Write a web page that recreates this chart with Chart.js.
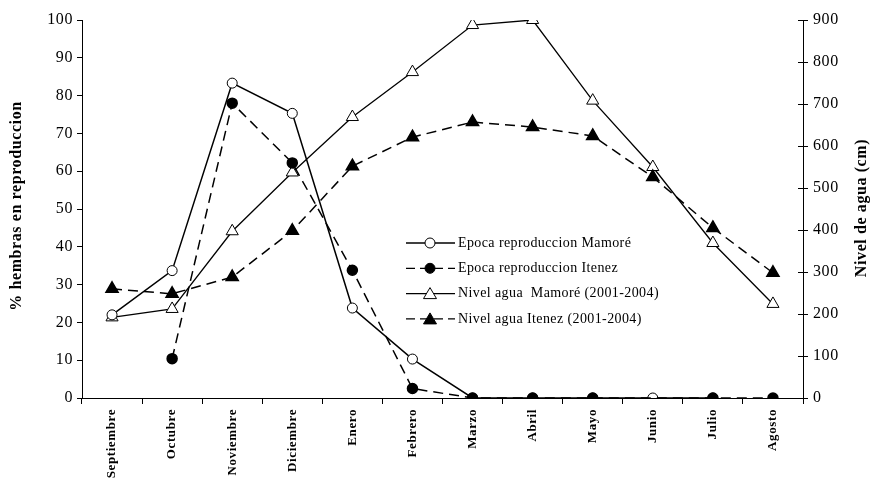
<!DOCTYPE html>
<html>
<head>
<meta charset="utf-8">
<script src="https://cdn.jsdelivr.net/npm/chart.js@4"></script>
<style>
  body { margin: 0; background: #fff; }
</style>
</head>
<body>
<canvas id="chart" width="878" height="484"></canvas>
<script>
const months = ['Septiembre', 'Octubre', 'Noviembre', 'Diciembre', 'Enero', 'Febrero',
                'Marzo', 'Abril', 'Mayo', 'Junio', 'Julio', 'Agosto'];
// % hembras en reproduccion (left axis)
const reproMamore = [22, 33.7, 83.3, 75.3, 23.8, 10.3, 0, 0, 0, 0, 0, null];
const reproItenez = [null, 10.4, 78, 62.2, 33.8, 2.5, 0, 0, 0, null, 0, 0];
// Nivel de agua en cm (right axis)
const nivelMamore = [192, 212, 397, 537, 669, 776, 888, 900, 708, 550, 369, 224];
const nivelItenez = [260, 248, 288, 398, 552, 621, 657, 645, 624, 526, 405, 298];

const seriesNames = ['Epoca reproduccion Mamoré', 'Epoca reproduccion Itenez',
                     'Nivel agua  Mamoré (2001-2004)', 'Nivel agua Itenez (2001-2004)'];
const leftTitle = '% hembras en reproduccion';
const rightTitle = 'Nivel de agua (cm)';

const serif = '"Liberation Serif", "DejaVu Serif", serif';

// the source figure has slightly spaced-out lettering
const spacing = {
    id: 'spacing',
    beforeDraw(chart) {
        chart.ctx.letterSpacing = '0.6px';
    }
};

// legend, rotated axis titles and inner ticks of right axis, drawn by hand
const extras = {
    id: 'extras',
    afterDraw(chart) {
        const ctx = chart.ctx;
        const y2 = chart.scales.y2;

        ctx.save();
        ctx.strokeStyle = '#000';
        ctx.lineWidth = 1;
        y2.ticks.forEach(t => {
            const py = Math.round(y2.getPixelForValue(t.value)) + 0.5;
            ctx.beginPath();
            ctx.moveTo(y2.left - 5, py);
            ctx.lineTo(y2.left, py);
            ctx.stroke();
        });
        ctx.restore();

        const drawTitle = (text, x, y) => {
            ctx.save();
            ctx.letterSpacing = '0.6px';
            ctx.fillStyle = '#000';
            ctx.font = 'bold 16px ' + serif;
            ctx.textAlign = 'center';
            ctx.textBaseline = 'middle';
            ctx.translate(x, y);
            ctx.rotate(-Math.PI / 2);
            ctx.fillText(text, 0, 0);
            ctx.restore();
        };
        drawTitle(leftTitle, 17, 206);
        drawTitle(rightTitle, 862, 208);

        // legend
        const styles = [
            { dash: [], shape: 'circle', fill: '#fff' },
            { dash: [9, 5], shape: 'circle', fill: '#000' },
            { dash: [], shape: 'triangle', fill: '#fff' },
            { dash: [9, 5], shape: 'triangle', fill: '#000' }
        ];
        const x0 = 406, x1 = 455, mx = 430;
        ctx.save();
        ctx.letterSpacing = '0.4px';
        ctx.font = '14px ' + serif;
        ctx.textBaseline = 'middle';
        ctx.textAlign = 'left';
        styles.forEach((s, i) => {
            const y = 243 + i * 25.3;
            ctx.strokeStyle = '#000';
            ctx.lineWidth = 1.3;
            ctx.setLineDash(s.dash);
            ctx.beginPath();
            ctx.moveTo(x0, y);
            ctx.lineTo(x1, y);
            ctx.stroke();
            ctx.setLineDash([]);
            ctx.fillStyle = s.fill;
            ctx.lineWidth = 1;
            ctx.beginPath();
            if (s.shape === 'circle') {
                ctx.arc(mx, y, 5, 0, Math.PI * 2);
            } else {
                ctx.moveTo(mx, y - 6);
                ctx.lineTo(mx + 6.5, y + 5);
                ctx.lineTo(mx - 6.5, y + 5);
                ctx.closePath();
            }
            ctx.fill();
            ctx.stroke();
            ctx.fillStyle = '#000';
            ctx.fillText(seriesNames[i], 458, y);
        });
        ctx.restore();
    }
};

const ctx = document.getElementById('chart').getContext('2d');
const chart = new Chart(ctx, {
    type: 'line',
    data: {
        labels: months,
        datasets: [
            {
                label: seriesNames[1],
                data: reproItenez,
                yAxisID: 'y',
                order: 0,
                borderColor: '#000',
                borderWidth: 1.5,
                borderDash: [10, 6],
                pointStyle: 'circle',
                pointRadius: 5,
                pointBackgroundColor: '#000',
                pointBorderColor: '#000',
                spanGaps: true,
                tension: 0
            },
            {
                label: seriesNames[0],
                data: reproMamore,
                yAxisID: 'y',
                order: 1,
                borderColor: '#000',
                borderWidth: 1.5,
                pointStyle: 'circle',
                pointRadius: 5,
                pointBackgroundColor: '#fff',
                pointBorderColor: '#000',
                pointBorderWidth: 1,
                tension: 0
            },
            {
                label: seriesNames[3],
                data: nivelItenez,
                yAxisID: 'y2',
                order: 2,
                borderColor: '#000',
                borderWidth: 1.5,
                borderDash: [10, 6],
                pointStyle: 'triangle',
                pointRadius: 7,
                pointBackgroundColor: '#000',
                pointBorderColor: '#000',
                tension: 0
            },
            {
                label: seriesNames[2],
                data: nivelMamore,
                yAxisID: 'y2',
                order: 3,
                borderColor: '#000',
                borderWidth: 1.3,
                pointStyle: 'triangle',
                pointRadius: 7,
                pointBackgroundColor: '#fff',
                pointBorderColor: '#000',
                pointBorderWidth: 1,
                tension: 0
            }
        ]
    },
    options: {
        responsive: false,
        animation: false,
        layout: { padding: { top: 20, left: 0, right: 0, bottom: 0 } },
        plugins: {
            legend: { display: false },
            tooltip: { enabled: false }
        },
        scales: {
            x: {
                offset: true,
                grid: { display: true, drawOnChartArea: false, offset: true, tickLength: 6, color: '#000' },
                border: { color: '#000', width: 1 },
                ticks: {
                    minRotation: 90, maxRotation: 90, color: '#000', padding: 5,
                    font: { family: serif, size: 13, weight: 'bold' }
                },
                afterFit: s => { s.height = 86; }
            },
            y: {
                position: 'left',
                min: 0, max: 100,
                grid: { display: true, drawOnChartArea: false, tickLength: 5, color: '#000' },
                border: { color: '#000', width: 1 },
                ticks: { stepSize: 10, color: '#000', padding: 4, font: { family: serif, size: 16 } },
                afterFit: s => { s.width = 82; }
            },
            y2: {
                position: 'right',
                min: 0, max: 900,
                grid: { display: true, drawOnChartArea: false, tickLength: 5, color: '#000' },
                border: { color: '#000', width: 1 },
                ticks: { stepSize: 100, color: '#000', padding: 5, font: { family: serif, size: 16 } },
                afterFit: s => { s.width = 75; }
            }
        }
    },
    plugins: [spacing, extras]
});
</script>
</body>
</html>
